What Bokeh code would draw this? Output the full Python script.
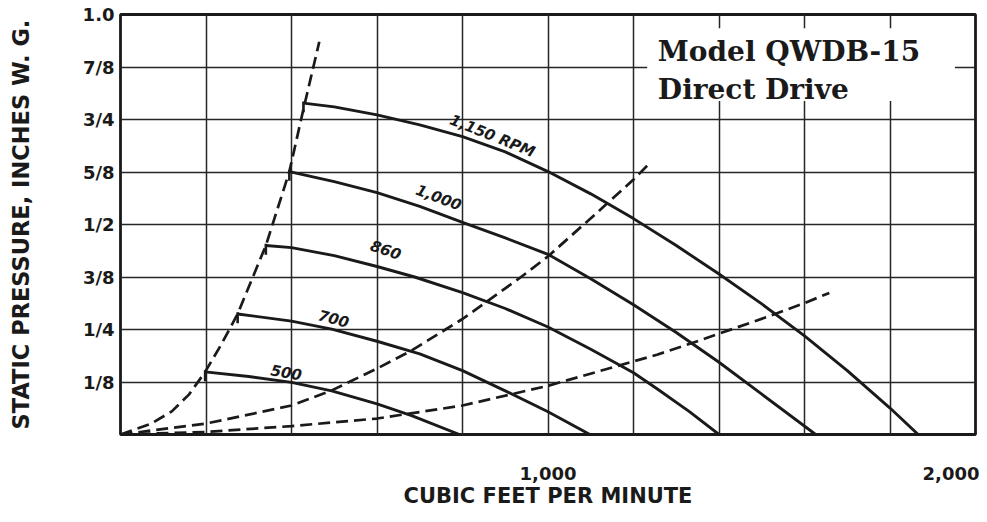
from bokeh.plotting import figure
from bokeh.models import FixedTicker, Label, BoxAnnotation, Range1d
from bokeh.embed import file_html
from bokeh.resources import INLINE
from bokeh.core.properties import value

# ---------------- data ----------------
# Fan curves: air volume (CFM) vs static pressure (inches W.G.)
cfm_1150 = [428, 500, 600, 700, 800, 900, 1000, 1100, 1200, 1300, 1400, 1500, 1600, 1700, 1800, 1866]
sp_1150 = [0.789, 0.780, 0.761, 0.737, 0.709, 0.673, 0.626, 0.573, 0.514, 0.450, 0.382, 0.311, 0.235, 0.152, 0.063, 0.0]

cfm_1000 = [395, 500, 600, 700, 800, 900, 1000, 1100, 1200, 1300, 1400, 1500, 1626]
sp_1000 = [0.626, 0.602, 0.576, 0.543, 0.505, 0.468, 0.429, 0.371, 0.309, 0.243, 0.172, 0.096, 0.0]

cfm_860 = [340, 400, 500, 600, 688, 800, 900, 1000, 1100, 1200, 1255, 1330, 1400]
sp_860 = [0.450, 0.445, 0.426, 0.400, 0.375, 0.338, 0.300, 0.256, 0.203, 0.147, 0.109, 0.055, 0.0]

cfm_700 = [274, 400, 494, 600, 700, 800, 900, 1000, 1098]
sp_700 = [0.287, 0.270, 0.251, 0.222, 0.192, 0.152, 0.104, 0.054, 0.0]

cfm_500 = [198, 300, 400, 494, 600, 681, 793]
sp_500 = [0.149, 0.138, 0.124, 0.104, 0.073, 0.045, 0.0]

fan_cfm = [cfm_1150, cfm_1000, cfm_860, cfm_700, cfm_500]
fan_sp = [sp_1150, sp_1000, sp_860, sp_700, sp_500]

# System (dashed) curves
sys_a_cfm = [0, 70, 120, 160, 198, 235, 274, 340, 395, 428, 465]
sys_a_sp = [0.0, 0.025, 0.055, 0.095, 0.149, 0.213, 0.287, 0.450, 0.626, 0.775, 0.935]

sys_b_cfm = [0, 200, 400, 494, 600, 681, 800, 933, 1000, 1133, 1200, 1234]
sys_b_sp = [0.0, 0.026, 0.069, 0.105, 0.157, 0.200, 0.275, 0.372, 0.424, 0.545, 0.607, 0.642]

sys_c_cfm = [0, 200, 400, 600, 800, 1000, 1255, 1332, 1400, 1521, 1600, 1658]
sys_c_sp = [0.0, 0.006, 0.020, 0.038, 0.069, 0.116, 0.190, 0.216, 0.240, 0.283, 0.313, 0.337]

sys_cfm = [sys_a_cfm, sys_b_cfm, sys_c_cfm]
sys_sp = [sys_a_sp, sys_b_sp, sys_c_sp]

# Curve labels
label_text = ["1,150 RPM", "1,000", "860", "700", "500"]
label_cfm = [870, 745, 621, 499, 388]
label_sp = [0.711, 0.566, 0.441, 0.277, 0.149]
label_angle = [-0.38, -0.36, -0.33, -0.26, -0.16]

# Axes
x_tick_values = [1000, 2000]
x_tick_labels = ["1,000", "2,000"]
x_grid_values = [200, 400, 600, 800, 1000, 1200, 1400, 1600, 1800]
y_tick_values = [0.125, 0.25, 0.375, 0.5, 0.625, 0.75, 0.875, 1.0]
y_tick_labels = ["1/8", "1/4", "3/8", "1/2", "5/8", "3/4", "7/8", "1.0"]

title_lines = ["Model QWDB-15", "Direct Drive"]
title_x = 1257
title_y = [0.911, 0.822]

# ---------------- figure ----------------
INK = "#1a1a1a"
SANS = "DejaVu Sans"

p = figure(width=979, height=514, output_backend="svg", toolbar_location=None,
           x_range=Range1d(0, 2000), y_range=Range1d(0, 1.0),
           min_border_left=120, min_border_right=4, min_border_top=14, min_border_bottom=80,
           background_fill_color="white", border_fill_color="white")

p.outline_line_color = INK
p.outline_line_width = 2.8

# grid
p.xgrid.ticker = FixedTicker(ticks=x_grid_values)
p.ygrid.ticker = FixedTicker(ticks=y_tick_values)
for g in (p.xgrid, p.ygrid):
    g.grid_line_color = "#262626"
    g.grid_line_width = 1.5
    g.grid_line_alpha = 1.0

# axes
for ax in (p.xaxis, p.yaxis):
    ax.axis_line_color = None
    ax.major_tick_line_color = None
    ax.minor_tick_line_color = None
    ax.major_tick_out = 0
    ax.major_tick_in = 0
    ax.minor_tick_out = 0
    ax.minor_tick_in = 0
    ax.major_label_text_font = SANS
    ax.major_label_text_font_style = "bold"
    ax.major_label_text_font_size = "18px"
    ax.major_label_text_color = INK
    ax.axis_label_text_font = SANS
    ax.axis_label_text_font_style = "bold"
    ax.axis_label_text_color = INK

# x axis (the "2,000" label is kept inside the canvas by Bokeh, flush right)
p.xaxis.ticker = FixedTicker(ticks=x_tick_values)
p.xaxis.major_label_overrides = {v: s for v, s in zip(x_tick_values, x_tick_labels)}
p.xaxis.major_label_standoff = 32
p.xaxis.axis_label = "CUBIC FEET PER MINUTE"
p.xaxis.axis_label_text_font_size = "21px"
p.xaxis.axis_label_standoff = 1

p.yaxis.ticker = FixedTicker(ticks=y_tick_values)
p.yaxis.major_label_overrides = {v: s for v, s in zip(y_tick_values, y_tick_labels)}
p.yaxis.major_label_standoff = 6
p.yaxis.axis_label = "STATIC PRESSURE, INCHES W. G."
p.yaxis.axis_label_text_font_size = "22.5px"
p.yaxis.axis_label_standoff = 46

# system curves (dashed)
for xs, ys in zip(sys_cfm, sys_sp):
    p.line(xs, ys, line_color=INK, line_width=2.7, line_dash="12 6")

# fan curves (solid)
for xs, ys in zip(fan_cfm, fan_sp):
    p.line(xs, ys, line_color=INK, line_width=2.9, line_join="round")

# little end ticks at the start of each fan curve
start_x = [c[0] for c in fan_cfm]
start_y = [s[0] for s in fan_sp]
p.segment(x0=start_x, y0=[y + 0.004 for y in start_y], x1=start_x,
          y1=[y - 0.022 for y in start_y], line_color=INK, line_width=2.6)

# curve labels
p.text(x=label_cfm, y=label_sp, text=label_text, angle=label_angle,
       text_font=value(SANS), text_font_style="bold italic", text_font_size="15px",
       text_align="center", text_baseline="middle", text_color=INK)

# title block
p.add_layout(BoxAnnotation(left=1232, right=1952, bottom=0.794, top=0.967,
                           fill_color="white", fill_alpha=1.0, line_alpha=0.0))
for line_text, ty in zip(title_lines, title_y):
    p.add_layout(Label(x=title_x, y=ty, text=line_text, text_font="DejaVu Serif",
                       text_font_style="bold", text_font_size="28px", text_color=INK,
                       text_baseline="alphabetic"))

open("out.html", "w").write(file_html(p, INLINE))
